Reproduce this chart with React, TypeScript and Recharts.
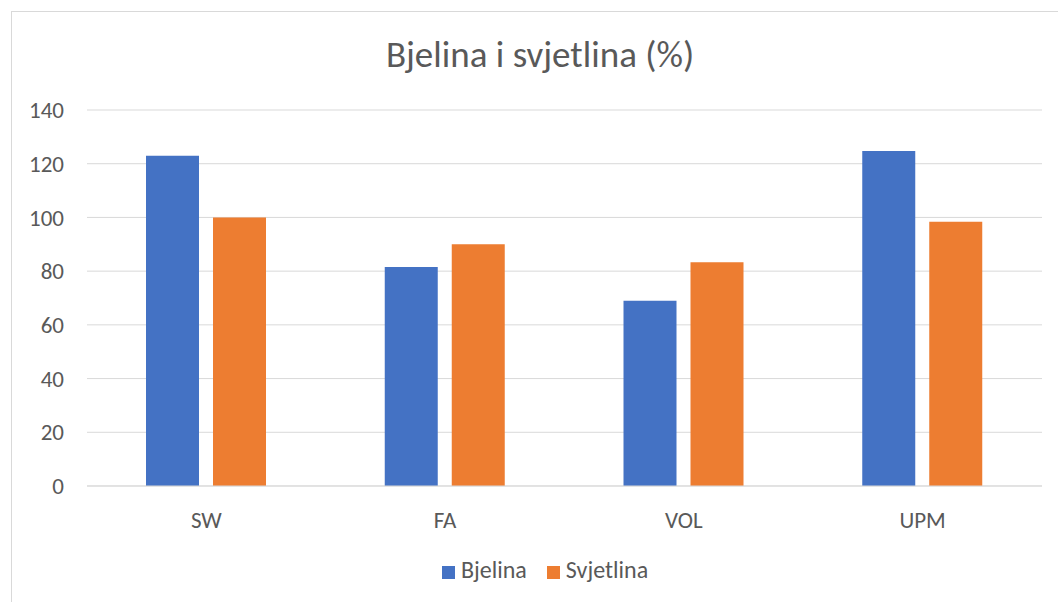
import { BarChart, Bar, XAxis, YAxis, CartesianGrid, Legend } from "recharts"

const categories = ["SW", "FA", "VOL", "UPM"]
const bjelina = [123, 81.5, 69, 124.7]
const svjetlina = [100, 90, 83.3, 98.4]
const yTicks = [0, 20, 40, 60, 80, 100, 120, 140]

const data = categories.map((name, i) => ({
  name,
  Bjelina: bjelina[i],
  Svjetlina: svjetlina[i],
}))

const FONT = "Carlito, 'Liberation Sans', Arial, sans-serif"
const TEXT = "#595959"

export default function App() {
  return (
    <div style={{ position: "absolute", left: 0, top: 0, width: 1058, height: 602, background: "#fff", overflow: "hidden", fontFamily: FONT }}>
      {/* chart area border */}
      <div style={{ position: "absolute", left: 11, top: 11, width: 1080, height: 620, border: "1px solid #d9d9d9" }} />

      {/* title */}
      <div
        style={{
          position: "absolute",
          left: 240,
          width: 600,
          top: 33,
          textAlign: "center",
          fontSize: 37,
          lineHeight: "44px",
          color: TEXT,
        }}
      >
        Bjelina i svjetlina (%)
      </div>

      <div style={{ position: "absolute", left: 0, top: 0 }}>
        <BarChart width={1058} height={602} data={data} margin={{ top: 110, right: 16, left: 0, bottom: 36 }} barSize={53} barGap={14}>
          <CartesianGrid vertical={false} stroke="#d9d9d9" />
          <XAxis
            dataKey="name"
            height={50}
            axisLine={{ stroke: "#d9d9d9" }}
            tickLine={false}
            tickSize={0}
            tickMargin={26}
            tick={{ fill: TEXT, fontSize: 23, fontFamily: FONT }}
          />
          <YAxis
            width={87}
            domain={[0, 140]}
            ticks={yTicks}
            axisLine={false}
            tickLine={false}
            tickSize={0}
            tickMargin={23}
            tick={{ fill: TEXT, fontSize: 23, fontFamily: FONT }}
          />
          <Legend
            align="left"
            iconType="square"
            iconSize={13}
            wrapperStyle={{ top: 555, left: 442, width: 240, height: 30, fontSize: 24, fontFamily: FONT }}
            formatter={(value) => <span style={{ color: TEXT, marginLeft: 2, marginRight: 10 }}>{value}</span>}
          />
          <Bar dataKey="Bjelina" fill="#4472c4" isAnimationActive={false} />
          <Bar dataKey="Svjetlina" fill="#ed7d31" isAnimationActive={false} />
        </BarChart>
      </div>
    </div>
  )
}
